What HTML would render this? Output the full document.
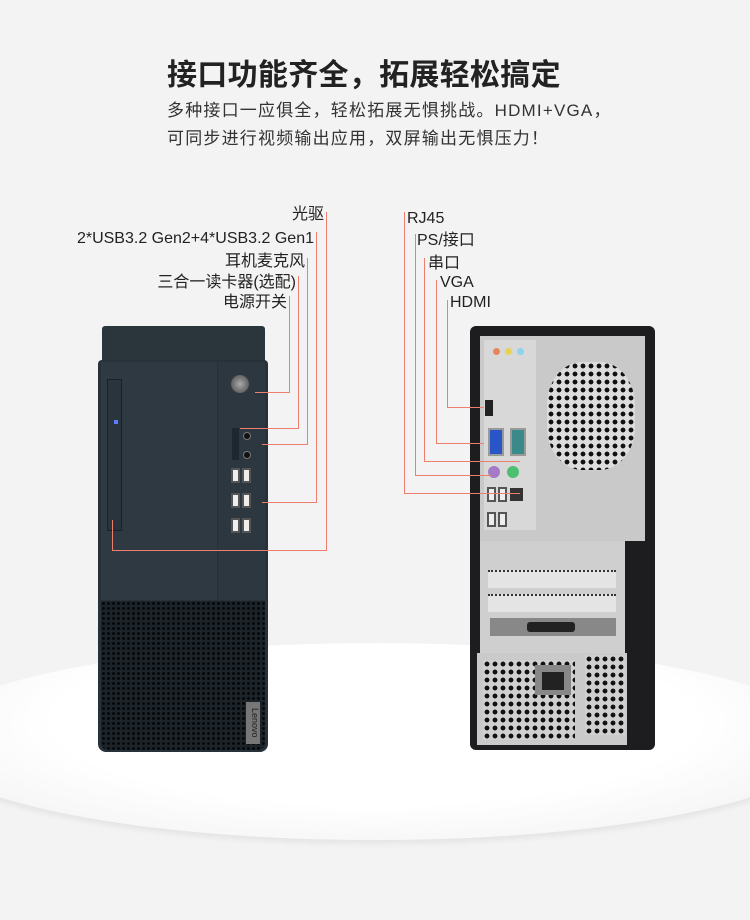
<!DOCTYPE html>
<html><head><meta charset="utf-8"><style>
*{margin:0;padding:0;box-sizing:border-box}
body{width:750px;height:920px;background:#f3f3f3;position:relative;overflow:hidden;font-family:"Liberation Sans","Noto Sans CJK SC",sans-serif;color:#222}
.a{position:absolute}
.t{font-size:16px;color:#222;white-space:nowrap;line-height:18px}
.l{position:absolute;background:#ee7f6f}
.grille{background-color:#1c2329;background-image:radial-gradient(circle,#05080a 1.3px,transparent 1.6px);background-size:5px 5px}
.bgrille{background-color:#ddd;background-image:radial-gradient(circle,#111 2.2px,transparent 2.6px);background-size:8px 8px}
.usb{position:absolute;width:9px;height:15px;background:#eee;border:2px solid #555}
</style></head><body>
<div class="a" style="left:-80px;top:643px;width:910px;height:197px;border-radius:50%;background:radial-gradient(ellipse at 50% 40%,#fff 50%,#f4f4f4 80%,#e6e6e6 100%);box-shadow:0 4px 6px rgba(0,0,0,0.06)"></div>

<div class="a" style="left:167px;top:50px;font-size:30px;font-weight:bold;color:#222;letter-spacing:0.3px">接口功能齐全，拓展轻松搞定</div>
<div class="a" style="left:167px;top:97px;font-size:17px;color:#333;line-height:28px;letter-spacing:1.2px">多种接口一应俱全，轻松拓展无惧挑战。HDMI+VGA，<br>可同步进行视频输出应用，双屏输出无惧压力！</div>

<!-- left labels -->
<div class="a t" style="right:426px;top:206px">光驱</div>
<div class="a t" style="right:436px;top:230px">2*USB3.2 Gen2+4*USB3.2 Gen1</div>
<div class="a t" style="right:445px;top:253px">耳机麦克风</div>
<div class="a t" style="right:454px;top:274px">三合一读卡器(选配)</div>
<div class="a t" style="right:463px;top:294px">电源开关</div>

<!-- front tower -->
<div class="a" style="left:102px;top:326px;width:163px;height:36px;background:#2b353c;border-radius:3px 3px 0 0"></div>
<div class="a" style="left:98px;top:360px;width:170px;height:392px;background:#26313a;border-radius:4px 4px 8px 8px"></div>
<div class="a" style="left:101px;top:362px;width:116px;height:238px;background:#2e3942"></div>
<div class="a" style="left:218px;top:362px;width:47px;height:238px;background:#2c3740"></div>
<div class="a" style="left:107px;top:379px;width:15px;height:152px;border:1px solid #1a2228;background:#2a343c"></div>
<div class="a" style="left:114px;top:420px;width:4px;height:4px;background:#5b7cff"></div>
<div class="a" style="left:231px;top:375px;width:18px;height:18px;border-radius:50%;background:radial-gradient(circle,#aaa,#444)"></div>
<div class="a" style="left:232px;top:428px;width:7px;height:32px;background:#1e272d"></div>
<div class="a" style="left:243px;top:432px;width:8px;height:8px;border-radius:50%;background:#111;border:1px solid #777"></div>
<div class="a" style="left:243px;top:451px;width:8px;height:8px;border-radius:50%;background:#111;border:1px solid #777"></div>
<div class="usb" style="left:231px;top:468px"></div><div class="usb" style="left:242px;top:468px"></div>
<div class="usb" style="left:231px;top:493px"></div><div class="usb" style="left:242px;top:493px"></div>
<div class="usb" style="left:231px;top:518px"></div><div class="usb" style="left:242px;top:518px"></div>
<div class="a grille" style="left:101px;top:601px;width:164px;height:149px;border-radius:0 0 7px 7px"></div>
<div class="a" style="left:246px;top:702px;width:14px;height:42px;background:#777;color:#222;font-size:9px;writing-mode:vertical-rl;text-align:center">Lenovo</div>

<!-- left connectors -->
<div class="l" style="left:326px;top:212px;width:1px;height:339px"></div>
<div class="l" style="left:112px;top:550px;width:215px;height:1px"></div>
<div class="l" style="left:112px;top:520px;width:1px;height:31px"></div>
<div class="l" style="left:316px;top:232px;width:1px;height:271px"></div>
<div class="l" style="left:262px;top:502px;width:55px;height:1px"></div>
<div class="l" style="left:307px;top:258px;width:1px;height:187px"></div>
<div class="l" style="left:262px;top:444px;width:46px;height:1px"></div>
<div class="l" style="left:298px;top:276px;width:1px;height:153px"></div>
<div class="l" style="left:240px;top:428px;width:59px;height:1px"></div>
<div class="l" style="left:289px;top:296px;width:1px;height:97px"></div>
<div class="l" style="left:255px;top:392px;width:35px;height:1px"></div>

<!-- right labels -->
<div class="a t" style="left:407px;top:210px">RJ45</div>
<div class="a t" style="left:417px;top:232px">PS/接口</div>
<div class="a t" style="left:428px;top:255px">串口</div>
<div class="a t" style="left:440px;top:274px">VGA</div>
<div class="a t" style="left:450px;top:294px">HDMI</div>

<!-- back tower -->
<div class="a" style="left:470px;top:326px;width:185px;height:424px;background:#1d1d1f;border-radius:6px"></div>
<div class="a" style="left:480px;top:336px;width:165px;height:205px;background:#c9c9c9"></div>
<div class="a" style="left:484px;top:340px;width:52px;height:190px;background:#d8d8d8"></div>
<div class="a bgrille" style="left:547px;top:362px;width:88px;height:108px;border-radius:40%"></div>
<div class="a" style="left:493px;top:348px;width:7px;height:7px;border-radius:50%;background:#e8845a"></div>
<div class="a" style="left:505px;top:348px;width:7px;height:7px;border-radius:50%;background:#e7d255"></div>
<div class="a" style="left:517px;top:348px;width:7px;height:7px;border-radius:50%;background:#8cd3ee"></div>
<div class="a" style="left:485px;top:400px;width:8px;height:16px;background:#222"></div>
<div class="a" style="left:488px;top:428px;width:16px;height:28px;background:#2a55c8;border:2px solid #999"></div>
<div class="a" style="left:510px;top:428px;width:16px;height:28px;background:#3a8a8a;border:2px solid #999"></div>
<div class="a" style="left:488px;top:466px;width:12px;height:12px;border-radius:50%;background:#a47ac8"></div>
<div class="a" style="left:507px;top:466px;width:12px;height:12px;border-radius:50%;background:#4cc070"></div>
<div class="usb" style="left:487px;top:487px"></div><div class="usb" style="left:498px;top:487px"></div>
<div class="usb" style="left:487px;top:512px"></div><div class="usb" style="left:498px;top:512px"></div>
<div class="a" style="left:510px;top:488px;width:13px;height:13px;background:#333"></div>
<div class="a" style="left:480px;top:541px;width:145px;height:112px;background:#cfcfcf"></div>
<div class="a" style="left:488px;top:570px;width:128px;height:18px;background:#e4e4e4;border-top:2px dotted #333"></div>
<div class="a" style="left:488px;top:594px;width:128px;height:18px;background:#e4e4e4;border-top:2px dotted #333"></div>
<div class="a" style="left:490px;top:618px;width:126px;height:18px;background:#888"></div>
<div class="a" style="left:527px;top:622px;width:48px;height:10px;background:#222;border-radius:3px"></div>
<div class="a" style="left:477px;top:653px;width:150px;height:92px;background:#cacaca"></div>
<div class="a bgrille" style="left:483px;top:660px;width:92px;height:80px;background-color:#d0d0d0"></div>
<div class="a" style="left:535px;top:665px;width:36px;height:30px;background:#888"></div>
<div class="a" style="left:542px;top:672px;width:22px;height:18px;background:#222"></div>
<div class="a bgrille" style="left:585px;top:655px;width:40px;height:80px;background-color:#d0d0d0"></div>

<!-- right connectors -->
<div class="l" style="left:404px;top:212px;width:1px;height:282px"></div>
<div class="l" style="left:404px;top:493px;width:116px;height:1px"></div>
<div class="l" style="left:415px;top:234px;width:1px;height:242px"></div>
<div class="l" style="left:415px;top:475px;width:76px;height:1px"></div>
<div class="l" style="left:424px;top:258px;width:1px;height:204px"></div>
<div class="l" style="left:424px;top:461px;width:96px;height:1px"></div>
<div class="l" style="left:436px;top:280px;width:1px;height:164px"></div>
<div class="l" style="left:436px;top:443px;width:48px;height:1px"></div>
<div class="l" style="left:447px;top:300px;width:1px;height:108px"></div>
<div class="l" style="left:447px;top:407px;width:37px;height:1px"></div>
</body></html>
